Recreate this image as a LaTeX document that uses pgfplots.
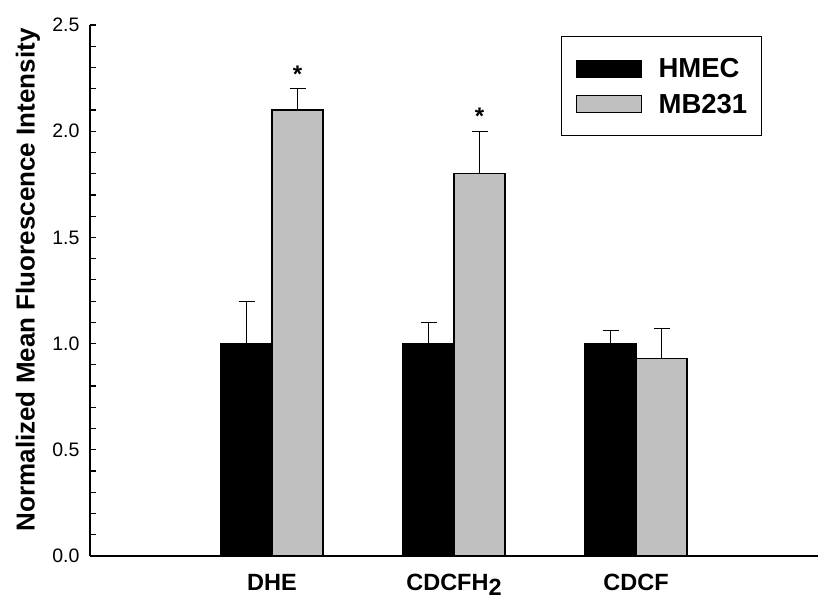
\documentclass[border=0pt]{standalone}
\usepackage{pgfplots}
\pgfplotsset{compat=1.18}
\usepackage{fontspec}
\setmainfont{Liberation Sans}
\definecolor{barGray}{RGB}{192,192,192}
\begin{document}
\begin{tikzpicture}
\useasboundingbox (-90pt,-44pt) rectangle (748pt,556pt);
\begin{axis}[
  at={(0pt,0pt)}, anchor=origin,
  scale only axis, width=728pt, height=531pt,
  xmin=0, xmax=4, ymin=0, ymax=2.5,
  axis x line*=bottom, axis y line*=left,
  axis line style={line width=1.2pt},
  every axis plot/.append style={line width=1.2pt},
  xtick={1,2,3},
  xticklabels={DHE, CDCFH\raisebox{-5pt}{2}, CDCF},
  x tick style={draw=none},
  xticklabel style={font=\fontsize{23.5}{26}\selectfont\bfseries, yshift=-9pt},
  ytick={0,0.5,1,1.5,2,2.5},
  minor y tick num=4,
  tick align=inside,
  major tick length=6pt, minor tick length=6pt,
  y tick style={line width=1.2pt, black},
  minor y tick style={line width=1.2pt, black},
  yticklabel style={font=\fontsize{19.5}{21}\selectfont, xshift=-7pt},
  /pgf/number format/assume math mode=true,
  yticklabel={\pgfmathprintnumber[fixed,fixed zerofill,precision=1]{\tick}},
  ylabel={Normalized Mean Fluorescence Intensity},
  ylabel style={font=\fontsize{26}{28}\selectfont\bfseries, at={(axis description cs:-0.0852,0.52)}, anchor=center},
  ybar=0pt, bar width=51pt,
  legend style={at={(rel axis cs:0.647,0.979)}, anchor=north west, draw=black, line width=1pt,
    font=\fontsize{27.5}{30}\selectfont\bfseries, nodes={inner sep=0pt, text depth=0pt},
    row sep=16.5pt, column sep=0pt, inner xsep=14pt, inner ysep=22pt},
  legend cell align=left,
]
\addplot[fill=black, draw=black,
  legend image code/.code={\draw[fill=black,draw=black,line width=1pt] (0pt,-9pt) rectangle (65pt,8pt); \path (82pt,0pt);},
  error bars/.cd, y dir=plus, y explicit,
  error bar style={line width=1.2pt, black},
  error mark options={line width=1.2pt, black, mark size=8pt, rotate=90}]
  coordinates {(1,1.0) +- (0,0.2) (2,1.0) +- (0,0.1) (3,1.0) +- (0,0.06)};
\addlegendentry{HMEC}
\addplot[fill=barGray, draw=black,
  legend image code/.code={\draw[fill=barGray,draw=black,line width=1pt] (0pt,-9pt) rectangle (65pt,8pt); \path (82pt,0pt);},
  error bars/.cd, y dir=plus, y explicit,
  error bar style={line width=1.2pt, black},
  error mark options={line width=1.2pt, black, mark size=8pt, rotate=90}]
  coordinates {(1,2.1) +- (0,0.1) (2,1.8) +- (0,0.2) (3,0.93) +- (0,0.14)};
\addlegendentry{MB231}
\node[font=\fontsize{24}{26}\selectfont\bfseries, anchor=south, xshift=25.5pt, yshift=3pt] at (axis cs:1,2.2) {*};
\node[font=\fontsize{24}{26}\selectfont\bfseries, anchor=south, xshift=25.5pt, yshift=3pt] at (axis cs:2,2.0) {*};
\end{axis}
\end{tikzpicture}
\end{document}
